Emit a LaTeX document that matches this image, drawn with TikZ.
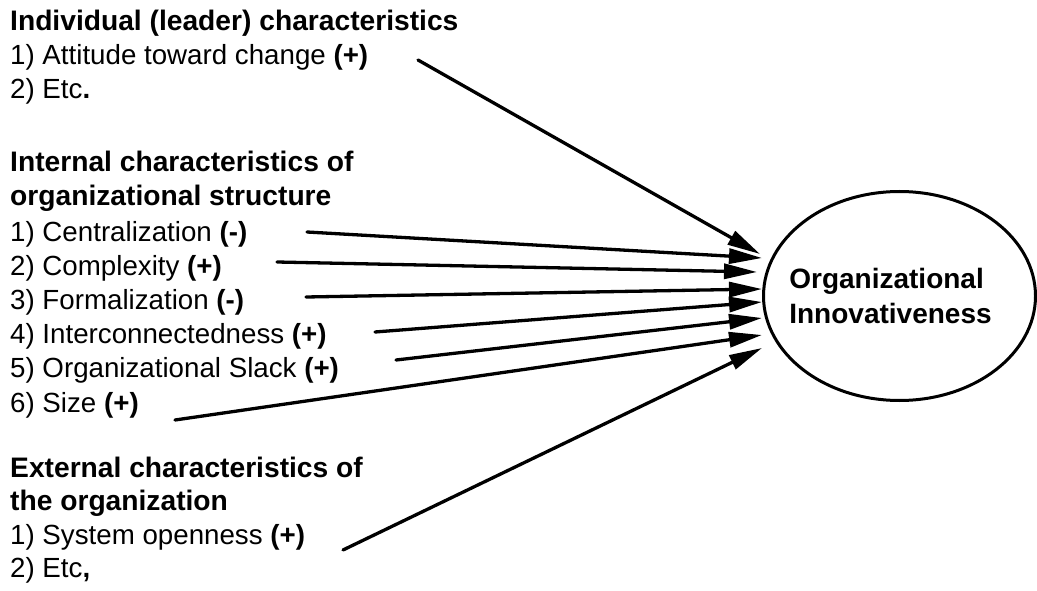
\documentclass[tikz,border=0pt]{standalone}
\usepackage{fontspec}
\setmainfont{Liberation Sans}
\usetikzlibrary{arrows.meta,shapes.geometric}
\begin{document}
\begin{tikzpicture}[x=1pt,y=-1pt,
  item/.style={anchor=base west, inner sep=0pt, font=\fontsize{27.7}{33}\selectfont},
  heading/.style={item, font=\fontsize{28.2}{33}\selectfont\bfseries},
  link/.style={line width=3.3pt, line cap=round, -{Triangle[length=33pt,width=15pt]}},
  outcome/.style={draw, ellipse, line width=3pt, minimum width=272pt, minimum height=209pt, inner sep=0pt},
  outcometext/.style={align=left, inner sep=0pt, xshift=-9pt, font=\fontsize{28}{35}\selectfont\bfseries}]
\useasboundingbox (0,0) rectangle (1037,591);

% individual characteristics
\node[heading] (indh) at (10,31) {Individual (leader) characteristics};
\node[item] (ind1) at (10,65) {1) Attitude toward change \textbf{(+)}};
\node[item] (ind2) at (10,99) {2) Etc\textbf{.}};

% internal characteristics
\node[heading] (inth1) at (10,172) {Internal characteristics of};
\node[heading] (inth2) at (10,206) {organizational structure};
\node[item] (int1) at (10,241) {1) Centralization \textbf{(-)}};
\node[item] (int2) at (10,275) {2) Complexity \textbf{(+)}};
\node[item] (int3) at (10,309) {3) Formalization \textbf{(-)}};
\node[item] (int4) at (10,343) {4) Interconnectedness \textbf{(+)}};
\node[item] (int5) at (10,377) {5) Organizational Slack \textbf{(+)}};
\node[item] (int6) at (10,412) {6) Size \textbf{(+)}};

% external characteristics
\node[heading] (exth1) at (10,477) {External characteristics of};
\node[heading] (exth2) at (10,510) {the organization};
\node[item] (ext1) at (10,544) {1) System openness \textbf{(+)}};
\node[item] (ext2) at (10,577) {2) Etc\textbf{,}};

% outcome, its label set a little left of centre
\node[outcome, label={[outcometext]center:{Organizational\\Innovativeness}}] (innov) at (899.5,296) {};

% connector ends
\coordinate (sA) at (418,60);   \coordinate (tA) at (760,254);
\coordinate (sC1) at (307,232); \coordinate (tC1) at (762,258);
\coordinate (sC2) at (277,262); \coordinate (tC2) at (757,272);
\coordinate (sC3) at (306,297); \coordinate (tC3) at (762,289);
\coordinate (sC4) at (375,332); \coordinate (tC4) at (762,302);
\coordinate (sC5) at (396,360); \coordinate (tC5) at (762,318);
\coordinate (sC6) at (175,420); \coordinate (tC6) at (762,335);
\coordinate (sE) at (343,550);  \coordinate (tE) at (762,348);

\draw[link] (sA) -- (tA);
\draw[link] (sC1) -- (tC1);
\draw[link] (sC2) -- (tC2);
\draw[link] (sC3) -- (tC3);
\draw[link] (sC4) -- (tC4);
\draw[link] (sC5) -- (tC5);
\draw[link] (sC6) -- (tC6);
\draw[link] (sE) -- (tE);
\end{tikzpicture}
\end{document}
